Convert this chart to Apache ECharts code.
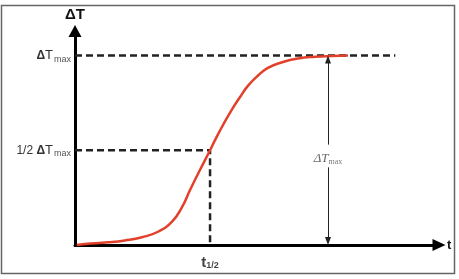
<!DOCTYPE html>
<html><head><meta charset="utf-8">
<script src="https://cdn.jsdelivr.net/npm/echarts@6/dist/echarts.min.js"></script>
<style>html,body{margin:0;padding:0;background:#fff}#c{width:459px;height:279px}</style>
</head><body><div id="c"></div>
<script>
// time (arbitrary units, axis 0..100) and normalised temperature rise (ΔT / ΔTmax)
const t  = [0.5, 2.7, 9.1, 13.7, 18.4, 22.8, 26.6, 29.4, 31.6, 34.3, 37.1, 38.5, 40.7, 43.1, 45.3, 47.5, 50.3, 53.0, 56.9, 61.3, 66.0, 70.6, 75.0];
const dT = [0, 0.005, 0.014, 0.024, 0.041, 0.07, 0.122, 0.2, 0.29, 0.395, 0.5, 0.555, 0.635, 0.715, 0.78, 0.84, 0.895, 0.935, 0.965, 0.985, 0.994, 0.998, 1.0];
const levelMax = 1;        // ΔTmax
const levelHalf = 0.5;     // 1/2 ΔTmax
const tHalf = 37.1;        // t1/2
const dashEnd = 88;        // end of the ΔTmax dashed guide
const tArrow = 69.5;       // position of the ΔTmax dimension arrow
const gapLow = 0.41, gapHigh = 0.53, labelMid = 0.455;
const arrowPad = 0.021;

const curve = t.map((v, i) => [v, dT[i]]);
const dashStyle = {color: '#222', width: 2.5, type: [7, 4]};

const chart = echarts.init(document.getElementById('c'), null, {renderer: 'canvas'});
chart.setOption({
  animation: false,
  backgroundColor: '#fff',
  grid: {left: 75, right: 20, top: 31, bottom: 34},
  graphic: [{type: 'rect', shape: {x: 1.5, y: 5.5, width: 453, height: 268}, style: {fill: 'none', stroke: '#666', lineWidth: 1.5}, silent: true}],
  xAxis: {
    type: 'value', min: 0, max: 100,
    name: 't', nameLocation: 'end', nameGap: 8,
    nameTextStyle: {fontFamily: 'Liberation Sans', fontWeight: 'bold', fontSize: 13, color: '#111'},
    axisLine: {lineStyle: {color: '#000', width: 3}, symbol: ['none', 'triangle'], symbolSize: [12, 13]},
    axisTick: {show: false}, axisLabel: {show: false}, splitLine: {show: false}
  },
  yAxis: {
    type: 'value', min: 0, max: 1.13, interval: 0.5,
    name: 'ΔT', nameLocation: 'end', nameGap: 9,
    nameTextStyle: {fontFamily: 'Liberation Sans', fontWeight: 'bold', fontSize: 15, color: '#111', align: 'center'},
    axisLine: {show: true, lineStyle: {color: '#000', width: 3}, symbol: ['none', 'triangle'], symbolSize: [13, 12]},
    axisTick: {show: false}, splitLine: {show: false},
    axisLabel: {
      margin: 4, showMaxLabel: false,
      formatter: v => v === levelMax ? '{d|Δ}{t|T}{s|max}' : (v === levelHalf ? '{n|1/2 }{d|Δ}{t|T}{s|max}' : ''),
      rich: {
        n: {fontFamily: 'Liberation Sans', fontSize: 12, color: '#333'},
        d: {fontFamily: 'Liberation Sans', fontSize: 12, fontWeight: 'bold', color: '#333'},
        t: {fontFamily: 'Liberation Sans', fontSize: 13, color: '#333'},
        s: {fontFamily: 'Liberation Sans', fontSize: 9, color: '#555', padding: [7, 0, 0, 1]}
      }
    }
  },
  series: [
    {
      type: 'line', data: curve, smooth: 0.5, showSymbol: false, silent: true, z: 3,
      lineStyle: {color: '#e2402a', width: 2.5}
    },
    {
      type: 'line', data: [[0, levelMax], [dashEnd, levelMax]], showSymbol: false, silent: true, z: 2,
      lineStyle: dashStyle
    },
    {
      type: 'line', data: [[0, levelHalf], [tHalf, levelHalf], [tHalf, 0]], showSymbol: false, silent: true, z: 2,
      lineStyle: dashStyle
    },
    {
      type: 'scatter', data: [[tHalf, 0]], symbolSize: 0, silent: true,
      label: {
        show: true, position: 'bottom', distance: 10,
        formatter: '{a|t}{b|1/2}',
        rich: {
          a: {fontFamily: 'Liberation Sans', fontWeight: 'bold', fontSize: 15, color: '#111'},
          b: {fontFamily: 'Liberation Sans', fontWeight: 'bold', fontSize: 9, color: '#111', padding: [6, 0, 0, 0]}
        }
      }
    },
    {
      type: 'scatter', data: [[tArrow, labelMid]], symbolSize: 0, silent: true,
      label: {
        show: true, position: 'inside',
        formatter: '{a|ΔT}{b|max}',
        rich: {
          a: {fontFamily: 'Liberation Serif', fontStyle: 'italic', fontSize: 13, color: '#444'},
          b: {fontFamily: 'Liberation Serif', fontSize: 8, color: '#555', padding: [6, 0, 0, 0]}
        }
      },
      markLine: {
        silent: true, symbol: ['none', 'triangle'], symbolSize: [6, 8],
        lineStyle: {color: '#222', width: 1, type: 'solid'},
        label: {show: false},
        data: [
          [{coord: [tArrow, gapHigh]}, {coord: [tArrow, levelMax - arrowPad]}],
          [{coord: [tArrow, gapLow]}, {coord: [tArrow, arrowPad]}]
        ]
      }
    }
  ]
});
</script></body></html>
